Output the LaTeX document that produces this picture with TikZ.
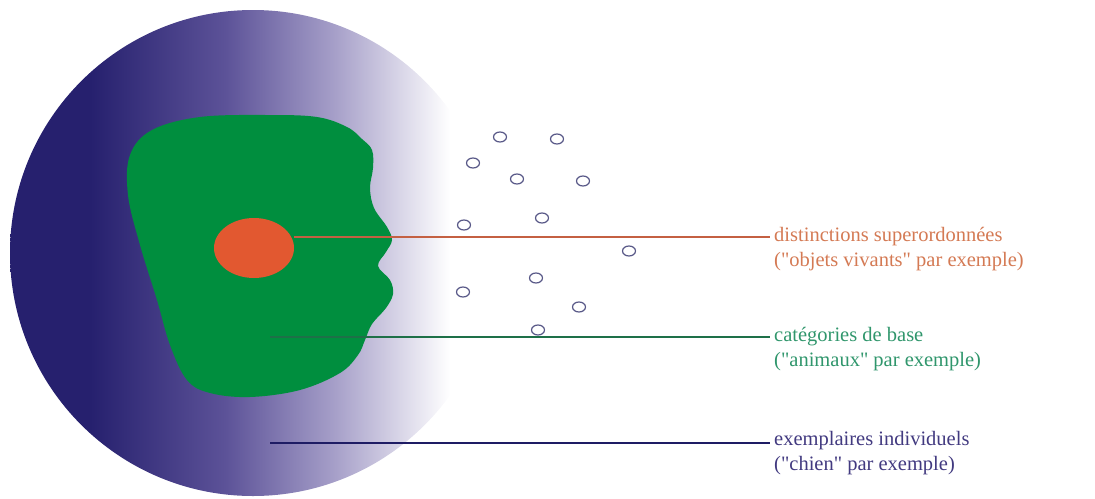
\documentclass[tikz,border=0pt]{standalone}
\usepackage{fontspec}
\setmainfont{Liberation Serif}
\usetikzlibrary{shapes.geometric, positioning}
\definecolor{navyA}{RGB}{38,32,110}
\definecolor{navyB}{RGB}{92,82,152}
\definecolor{navyC}{RGB}{165,158,200}
\definecolor{basec}{RGB}{0,142,62}
\definecolor{supc}{RGB}{226,88,48}
\definecolor{supline}{RGB}{196,96,66}
\definecolor{baseline}{RGB}{30,112,72}
\definecolor{indline}{RGB}{30,28,100}
\definecolor{suptext}{RGB}{212,122,84}
\definecolor{basetext}{RGB}{48,150,108}
\definecolor{indtext}{RGB}{66,58,128}
\definecolor{dotc}{RGB}{88,88,135}
\pgfdeclarehorizontalshading{discfade}{100bp}{color(0bp)=(navyA); color(25bp)=(navyA);
  color(35bp)=(navyA); color(50bp)=(navyB); color(62bp)=(navyC); color(75bp)=(white);
  color(100bp)=(white)}
\newcommand{\qt}{\textquotedbl}
\tikzset{
  lbl/.style={anchor=west, inner sep=4pt, text=#1, font=\fontsize{20.5}{25}\selectfont},
  lead/.style={draw=#1, line width=1.2pt},
  dot/.style={ellipse, draw=dotc, line width=1.2pt, minimum width=13pt,
              minimum height=10pt, inner sep=0pt},
}

\begin{document}
\begin{tikzpicture}[x=1pt, y=-1pt]
  \useasboundingbox (0,0) rectangle (1095,498);
  % disc of individual exemplars
  \begin{scope}
    \clip (253,253) circle (243);
    \shade[shading=discfade] (0,0) rectangle (450,498);
  \end{scope}
  \fill[basec] plot[smooth cycle, tension=0.6] coordinates {
    (130,155) (152,130) (200,117) (267,115) (317,117) (347,127) (362,139)
    (372,150) (373,168) (370,188) (374,208) (387,227) (392,240) (386,252)
    (378,266) (390,280) (393,294) (386,308) (372,324) (365,340) (358,355)
    (340,373) (300,390) (250,397) (210,393) (187,380) (170,345) (157,300)
    (140,245) (128,195)};
  \node[ellipse, fill=supc, minimum width=80pt, minimum height=60pt] (sup) at (254,248) {};
  \coordinate (basept) at (270,337);
  \coordinate (indpt) at (270,443);
  \foreach \x/\y [count=\i] in {500/137, 557/139, 473/163, 517/179, 583/181, 464/225,
      542/218, 629/251, 536/278, 463/292, 579/307, 538/330}
    \node[dot] (dot\i) at (\x,\y) {};
  \node[lbl=suptext] (supt) at (770,237) {distinctions superordonnées};
  \node[lbl=suptext] (supe) at (770,262) {(\qt objets vivants\qt{} par exemple)};
  \node[lbl=basetext] (baset) at (770,337) {catégories de base};
  \node[lbl=basetext] (basee) at (770,362) {(\qt animaux\qt{} par exemple)};
  \node[lbl=indtext] (indt) at (770,441) {exemplaires individuels};
  \node[lbl=indtext] (inde) at (770,466) {(\qt chien\qt{} par exemple)};
  \draw[lead=supline] (sup.east |- supt.west) -- (supt.west);
  \draw[lead=baseline] (basept) -- (basept -| baset.west);
  \draw[lead=indline] (indpt) -- (indpt -| indt.west);
\end{tikzpicture}
\end{document}
